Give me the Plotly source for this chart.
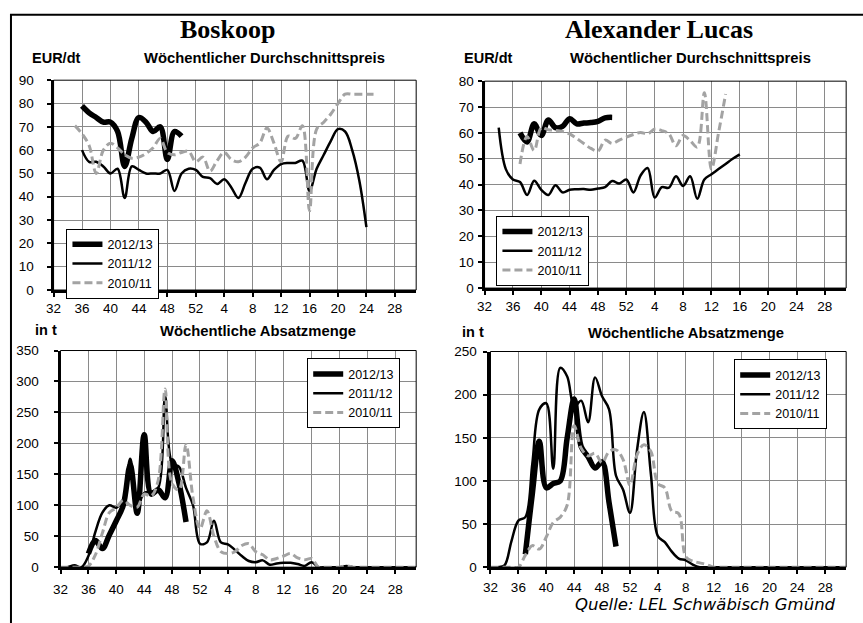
import plotly.graph_objects as go

W, H = 863, 623

# ---------------- data ----------------
TICK_WEEKS = [32, 36, 40, 44, 48, 52, 4, 8, 12, 16, 20, 24, 28]
SEASONS = ["2012/13", "2011/12", "2010/11"]

# Boskoop - weekly average price (EUR/dt); first week of each series
bos_price_start = {"2012/13": 36, "2011/12": 36, "2010/11": 35}
bos_price_1213 = [79, 76, 74, 72, 72, 68, 53, 65, 74, 72, 68, 70, 56, 68, 66]
bos_price_1112 = [60, 55, 55, 53, 50, 52, 39.5, 53, 51.5, 50, 50, 50, 51.5, 42.5, 50,
                  52, 51.5, 48.5, 48, 45.5, 47.5, 44, 39.5, 46, 52, 52.5, 47.5, 51.5,
                  54, 54.5, 54.5, 55.5, 42.5, 52, 58, 64, 69, 68, 60, 47, 27]
bos_price_1011 = [70.5, 67, 62, 50, 60, 63, 61, 58, 56.5, 57, 58.5, 61, 65, 59, 58, 59,
                  59.5, 55, 57, 51, 55.5, 59, 56, 55, 57, 61, 63, 69.5, 63, 55, 66, 65,
                  70.5, 34, 69, 72, 75.5, 80, 84, 84, 84, 84, 84]

# Alexander Lucas - weekly average price (EUR/dt)
luc_price_start = {"2012/13": 37, "2011/12": 34, "2010/11": 37}
luc_price_1213 = [60, 56.5, 63.5, 59, 65, 62, 62.5, 65.5, 63.5, 63.8, 64, 64.5, 65.8, 66]
luc_price_1112 = [62, 46, 42, 41, 36, 41.5, 38, 36, 39.8, 37, 38, 38.2, 38.3, 38, 38.5,
                  39, 41.4, 40.4, 42, 37, 43.5, 46.4, 35, 39, 38.8, 43.2, 39.5, 43.2,
                  34.5, 42, 44, 46, 48, 50, 51.7]
luc_price_1011 = [48, 58.6, 53.2, 62, 61.2, 61, 60.6, 59.6, 57.8, 55.9, 54, 53, 57.2,
                  55.9, 57.2, 58.4, 59.4, 60.2, 59.6, 61.5, 60.9, 59.6, 55, 59, 57, 54.5,
                  75.5, 46, 60, 75]

# Boskoop - weekly sales volume (t)
bos_vol_start = {"2012/13": 36, "2011/12": 32, "2010/11": 32}
bos_vol_1213 = [22, 43, 30, 52, 75, 100, 165, 87, 214, 118, 125, 112, 172, 135, 73]
bos_vol_1112 = [0, 0, 3, 0, 18, 57, 88, 100, 96, 110, 175, 98, 120, 122, 128, 276, 168,
                162, 128, 100, 38, 40, 75, 40, 37, 28, 18, 10, 8, 11, 4, 6, 7, 7, 5, 2,
                8, 0, 0, 0, 0, 2, 0, 0, 0, 0, 0, 0, 0, 0, 0, 0]
bos_vol_1011 = [0, 0, 0, 0, 2, 20, 55, 88, 96, 108, 100, 97, 118, 115, 140, 288, 135,
                125, 198, 112, 62, 91, 50, 25, 22, 25, 35, 38, 25, 20, 12, 14, 18, 22,
                15, 12, 14, 0, 0, 0, 0, 2, 0, 0, 0, 0, 0, 0, 0, 0, 0, 0]

# Alexander Lucas - weekly sales volume (t)
luc_vol_start = {"2012/13": 37, "2011/12": 32, "2010/11": 32}
luc_vol_1213 = [15, 85, 146, 92, 97, 100, 150, 195, 140, 128, 115, 122, 75, 24]
luc_vol_1112 = [0, 0, 2, 30, 54, 58, 120, 183, 190, 114, 231, 221, 186, 193, 168, 220,
                198, 183, 106, 90, 63, 135, 180, 108, 36, 29, 18, 10, 8, 3, 0, 0, 0, 0,
                0, 0, 0, 0, 0, 0, 0, 0, 0, 0, 0, 0, 0, 0, 0, 0, 0, 0]
luc_vol_1011 = [0, 0, 0, 0, 0, 14, 25, 21, 35, 52, 58, 72, 164, 138, 129, 132, 121, 134,
                136, 125, 95, 130, 142, 134, 97, 92, 65, 62, 12, 7, 5, 3, 0, 0, 0, 0, 0,
                0, 0, 0, 0, 0, 0, 0, 0, 0, 0, 0, 0, 0, 0, 0]

# ---------------- helpers ----------------
def season_pos(week):
    """Continuous position on the season axis (week 32 ... week 31)."""
    return week if week >= 32 else week + 52


def positions(start_week, values):
    p0 = season_pos(start_week)
    return [p0 + i for i in range(len(values))]


STYLE = {
    "2012/13": dict(color="black", width=5.5),
    "2011/12": dict(color="black", width=2.5),
    "2010/11": dict(color="#a3a3a3", width=3, dash="8px,4px"),
}

FONT = "Arial, Liberation Sans, sans-serif"

panels = [
    # axis suffix, legend, start dict, series, y max, dtick, px box (x0, x1, ytop, ybot),
    # legend px, y-label standoff, x-label standoff
    ("", "legend", bos_price_start,
     {"2012/13": bos_price_1213, "2011/12": bos_price_1112, "2010/11": bos_price_1011},
     90, 10, (46, 412, 75, 290), (59, 227), 10, 0),
    ("2", "legend2", luc_price_start,
     {"2012/13": luc_price_1213, "2011/12": luc_price_1112, "2010/11": luc_price_1011},
     80, 10, (481, 846, 76, 288), (493, 214), 1, 0),
    ("3", "legend3", bos_vol_start,
     {"2012/13": bos_vol_1213, "2011/12": bos_vol_1112, "2010/11": bos_vol_1011},
     350, 50, (53, 412, 352, 574), (302, 360), 12, 4),
    ("4", "legend4", luc_vol_start,
     {"2012/13": luc_vol_1213, "2011/12": luc_vol_1112, "2010/11": luc_vol_1011},
     250, 50, (487, 846, 353, 574), (733, 361), 4, 2),
]

fig = go.Figure()
layout = {}
shapes = []

for suffix, leg, starts, series, ymax, dtick, box, legpx, ystand, xstand in panels:
    xa, ya = "x" + suffix, "y" + suffix
    for name in SEASONS:
        vals = series[name]
        fig.add_trace(go.Scatter(
            x=positions(starts[name], vals), y=vals, name=name, mode="lines",
            line=dict(shape="spline", smoothing=1.0, **STYLE[name]),
            xaxis=xa, yaxis=ya, legend=leg, showlegend=True, hoverinfo="skip",
        ))
    x0, x1, yt, yb = box
    common = dict(showgrid=True, gridcolor="#8a8a8a", gridwidth=1, showline=True,
                  linecolor="black", linewidth=3, ticks="outside", ticklen=4,
                  tickwidth=1.5, tickcolor="black", zeroline=False,
                  tickfont=dict(family=FONT, size=13.5, color="black"))
    layout["xaxis" + suffix] = dict(
        domain=[x0 / W, x1 / W], anchor=ya, range=[32, 83],
        tickmode="array", tickvals=[season_pos(w) for w in TICK_WEEKS],
        ticktext=[str(w) for w in TICK_WEEKS], ticklabelstandoff=xstand, **common)
    layout["yaxis" + suffix] = dict(
        domain=[1 - yb / H, 1 - yt / H], anchor=xa, range=[0, ymax], dtick=dtick,
        ticklabelstandoff=ystand, **common)
    layout[leg] = dict(
        x=legpx[0] / W, y=1 - legpx[1] / H, xanchor="left", yanchor="top",
        bordercolor="black", borderwidth=1, bgcolor="white",
        font=dict(family=FONT, size=12.5, color="black"), tracegroupgap=0,
    )
    xd = "x" + suffix + " domain" if suffix else "x domain"
    yd = "y" + suffix + " domain" if suffix else "y domain"
    shapes.append(dict(type="rect", xref=xd, yref=yd, x0=0, x1=1, y0=0, y1=1,
                       line=dict(color="black", width=1), layer="above"))

# outer frame
shapes.append(dict(type="rect", xref="paper", yref="paper", x0=3 / W, x1=1.05,
                   y0=-0.05, y1=1 - 8 / H, line=dict(color="black", width=2)))


def ann(text, x, y, size, bold=False, family=FONT, italic=False, xanchor="center"):
    t = f"<b>{text}</b>" if bold else text
    t = f"<i>{t}</i>" if italic else t
    return dict(text=t, x=x / W, y=1 - y / H, xref="paper", yref="paper",
                showarrow=False, xanchor=xanchor, yanchor="middle",
                font=dict(family=family, size=size, color="black"))


SERIF = "Liberation Serif, Times New Roman, serif"
annotations = [
    ann("Boskoop", 222, 23, 26, bold=True, family=SERIF),
    ann("Alexander Lucas", 657, 23, 26, bold=True, family=SERIF),
    ann("EUR/dt", 49, 52, 14.5, bold=True),
    ann("Wöchentlicher Durchschnittspreis", 259, 52, 14.8, bold=True),
    ann("EUR/dt", 485, 52, 14.5, bold=True),
    ann("Wöchentlicher Durchschnittspreis", 689, 52, 14.8, bold=True),
    ann("in t", 38, 331, 14.5, bold=True),
    ann("Wöchentliche Absatzmenge", 252, 332, 14.8, bold=True),
    ann("in t", 469, 333, 14.5, bold=True),
    ann("Wöchentliche Absatzmenge", 684, 334, 14.8, bold=True),
    ann("Quelle: LEL Schwäbisch Gmünd", 570, 612, 16.5, italic=True,
        family="DejaVu Sans, sans-serif", xanchor="left"),
]

fig.update_layout(
    width=W, height=H, autosize=False,
    margin=dict(l=0, r=0, t=0, b=0, pad=0),
    paper_bgcolor="white", plot_bgcolor="white",
    shapes=shapes, annotations=annotations, **layout,
)

fig.write_html(
    "out.html", config={"displayModeBar": False},
    post_script=(
        "document.documentElement.style.margin='0px';"
        "document.body.style.margin='0px';document.body.style.padding='0px';"
        "var gd=document.getElementById('{plot_id}');"
        "gd.style.position='fixed';gd.style.left='0px';gd.style.top='0px';"
    ),
)
